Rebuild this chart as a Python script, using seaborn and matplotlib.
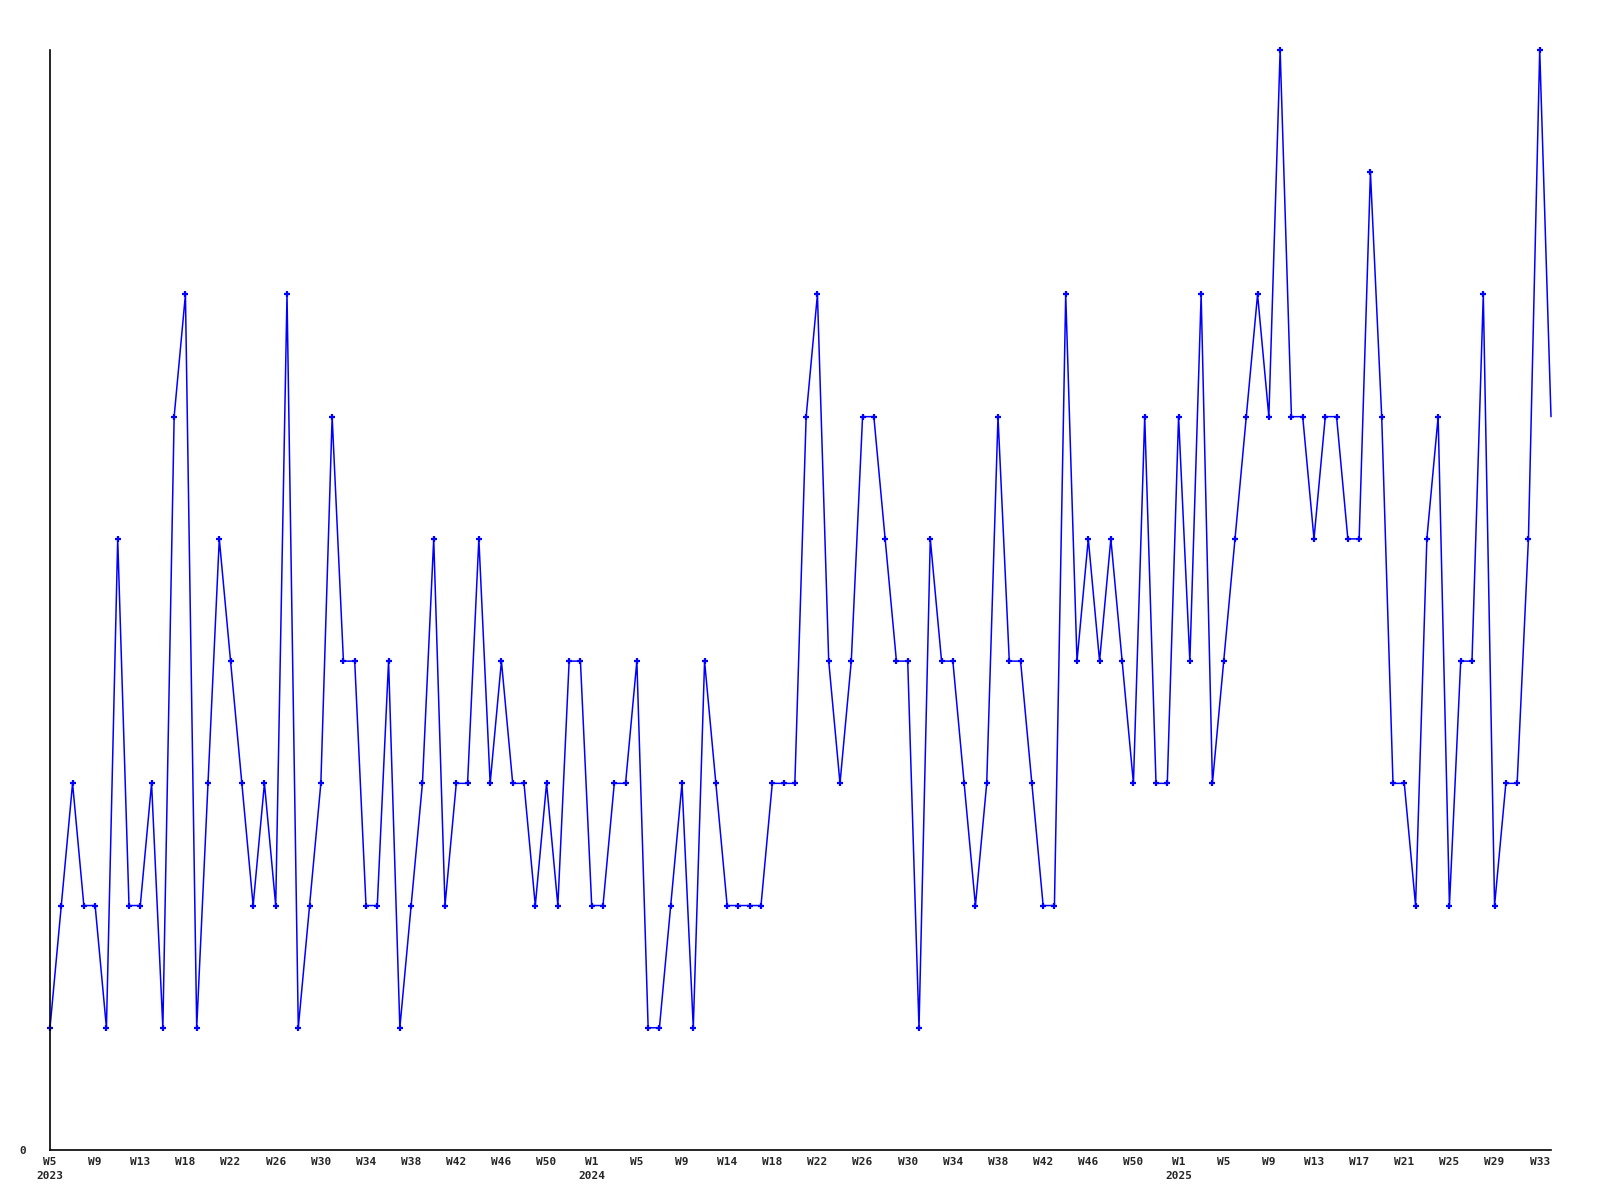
import pandas as pd
import matplotlib
matplotlib.use("Agg")
import matplotlib.pyplot as plt
import seaborn as sns

# weekly counts, 2023 W5 .. 2025 W34
counts = [
    1, 2, 3, 2, 2, 1, 5, 2, 2, 3, 1, 6, 7, 1, 3, 5, 4, 3, 2, 3,
    2, 7, 1, 2, 3, 6, 4, 4, 2, 2, 4, 1, 2, 3, 5, 2, 3, 3, 5, 3,
    4, 3, 3, 2, 3, 2, 4, 4, 2, 2, 3, 3, 4, 1, 1, 2, 3, 1, 4, 3,
    2, 2, 2, 2, 3, 3, 3, 6, 7, 4, 3, 4, 6, 6, 5, 4, 4, 1, 5, 4,
    4, 3, 2, 3, 6, 4, 4, 3, 2, 2, 7, 4, 5, 4, 5, 4, 3, 6, 3, 3,
    6, 4, 7, 3, 4, 5, 6, 7, 6, 9, 6, 6, 5, 6, 6, 5, 5, 8, 6, 3,
    3, 2, 5, 6, 2, 4, 4, 7, 2, 3, 3, 5, 9, 6,
]

# x tick labels, one every 4 weeks
week_labels = [
    "W5", "W9", "W13", "W18", "W22", "W26", "W30", "W34", "W38", "W42", "W46", "W50",
    "W1", "W5", "W9", "W14", "W18", "W22", "W26", "W30", "W34", "W38", "W42", "W46", "W50",
    "W1", "W5", "W9", "W13", "W17", "W21", "W25", "W29", "W33",
]
year_labels = {0: "2023", 12: "2024", 25: "2025"}

df = pd.DataFrame({"week": range(len(counts)), "count": counts})

sns.set_style("white")
plt.rcParams["font.family"] = ["DejaVu Sans Mono"]

fig = plt.figure(figsize=(16, 12), dpi=100)
ax = fig.add_axes([50 / 1600, 50 / 1200, 1501 / 1600, 1100 / 1200])

sns.lineplot(data=df, x="week", y="count", ax=ax, color="#0000ff",
             linewidth=1.1, marker="+", markersize=5, markeredgewidth=1.6,
             markeredgecolor="#0000ff", markerfacecolor="#0000ff",
             markevery=list(range(len(counts) - 1)), clip_on=False)

ax.set_xlim(0, len(counts) - 1)
ax.set_ylim(0, max(counts))

# ticks every 4 weeks, with year under the first week of each year
ticks = [i * 4 for i in range(len(week_labels))]
labels = []
for i, w in enumerate(week_labels):
    labels.append(w + "\n" + year_labels[i] if i in year_labels else w + "\n")
ax.set_xticks(ticks)
ax.set_xticklabels(labels, fontsize=8, fontweight="bold", linespacing=1.5)
ax.set_yticks([0])
ax.set_yticklabels(["0"], fontsize=8, fontweight="bold")
ax.tick_params(axis="x", length=0, pad=5)
ax.tick_params(axis="y", length=0, pad=17)

ax.set_xlabel("")
ax.set_ylabel("")
for side in ["top", "right"]:
    ax.spines[side].set_visible(False)
for side in ["left", "bottom"]:
    ax.spines[side].set_color("black")
    ax.spines[side].set_linewidth(1.2)

fig.savefig("out.png", dpi=100, facecolor="white")
